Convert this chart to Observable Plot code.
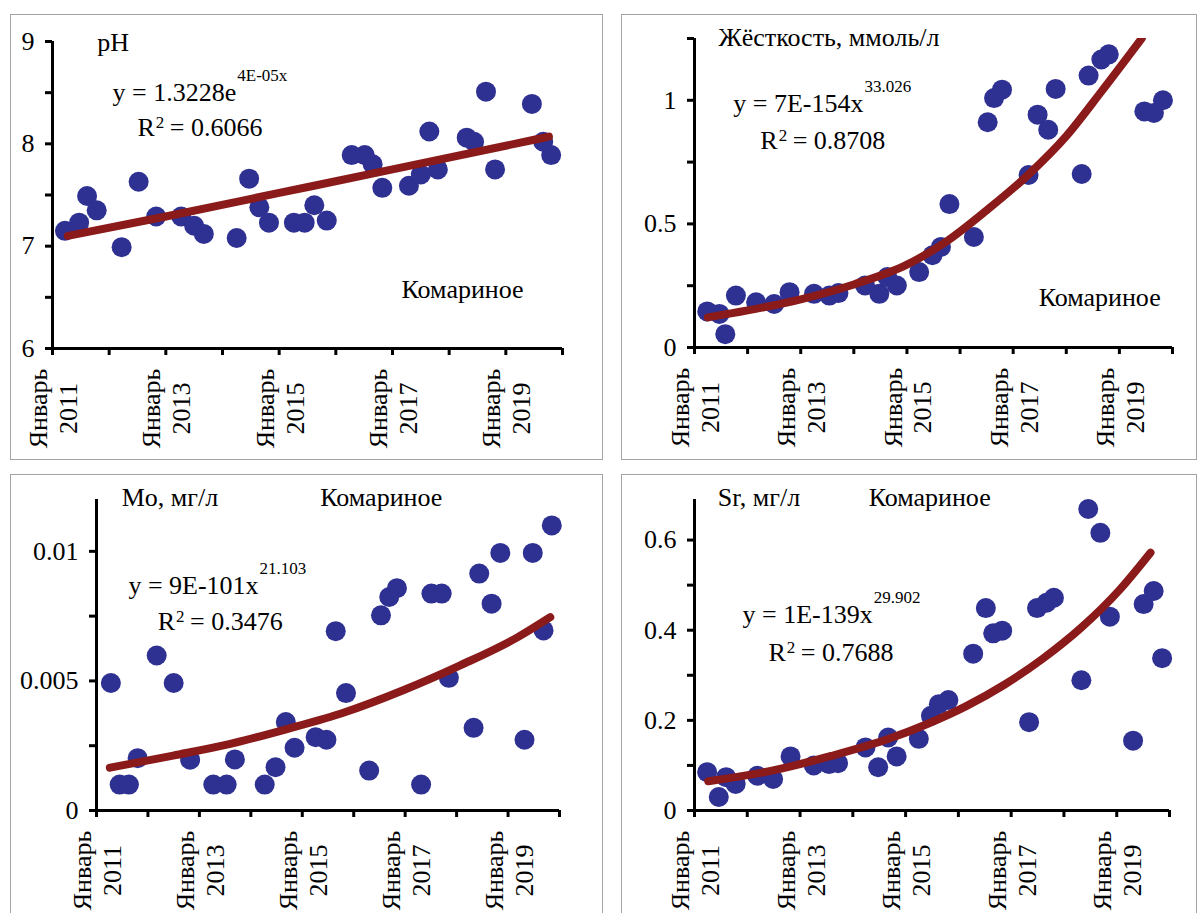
<!DOCTYPE html>
<html>
<head>
<meta charset="utf-8">
<script src="https://cdn.jsdelivr.net/npm/d3@7"></script>
<script src="https://cdn.jsdelivr.net/npm/@observablehq/plot@0.6"></script>
<style>
  html, body { margin: 0; padding: 0; background: #fff; }
  body { width: 1203px; height: 913px; overflow: hidden; position: relative;
         font-family: "Liberation Serif", "Times New Roman", serif; }
  .panel { position: absolute; }
  .panel svg { position: absolute; left: 0; top: 0; }
  .frame { position: absolute; left: 0; top: 0; right: 0; bottom: 0;
           border: 1.5px solid #a3a3a3; box-sizing: border-box; pointer-events: none; }
</style>
</head>
<body>
<script>
// ---------------- data ----------------
const monthLabel = "Январь";
const xTickYears = [2011, 2012, 2013, 2014, 2015, 2016, 2017, 2018, 2019, 2020];
const xLabelYears = [2011, 2013, 2015, 2017, 2019];
const siteName = "Комариное";

// pH
const phX = [2011.22, 2011.47, 2011.61, 2011.78, 2012.22, 2012.52, 2012.83, 2013.27, 2013.50, 2013.67, 2014.25, 2014.47, 2014.65, 2014.82, 2015.26, 2015.45, 2015.62, 2015.84, 2016.28, 2016.51, 2016.65, 2016.82, 2017.29, 2017.50, 2017.65, 2017.80, 2018.31, 2018.44, 2018.65, 2018.81, 2019.46, 2019.66, 2019.80];
const phY = [7.15, 7.23, 7.49, 7.35, 6.99, 7.63, 7.29, 7.29, 7.20, 7.12, 7.08, 7.66, 7.38, 7.23, 7.23, 7.23, 7.40, 7.25, 7.89, 7.89, 7.80, 7.57, 7.59, 7.70, 8.12, 7.75, 8.06, 8.02, 8.51, 7.75, 8.39, 8.02, 7.89];
const phTrendX = [2011.27, 2013.0, 2015.0, 2017.0, 2019.76];
const phTrendY = [7.10, 7.29, 7.52, 7.75, 8.07];
const phYTicks = [6, 6.5, 7, 7.5, 8, 8.5, 9];
const phYLabels = [6, 7, 8, 9];

// Hardness
const hdX = [2011.24, 2011.47, 2011.58, 2011.78, 2012.16, 2012.50, 2012.79, 2013.25, 2013.54, 2013.71, 2014.21, 2014.48, 2014.63, 2014.81, 2015.23, 2015.48, 2015.64, 2015.80, 2016.26, 2016.52, 2016.64, 2016.79, 2017.29, 2017.46, 2017.66, 2017.80, 2018.29, 2018.42, 2018.66, 2018.80, 2019.47, 2019.65, 2019.82];
const hdY = [0.146, 0.136, 0.054, 0.210, 0.183, 0.176, 0.224, 0.217, 0.210, 0.220, 0.251, 0.217, 0.285, 0.251, 0.305, 0.373, 0.407, 0.580, 0.447, 0.911, 1.009, 1.043, 0.698, 0.942, 0.881, 1.046, 0.702, 1.100, 1.165, 1.186, 0.955, 0.949, 1.000];
const hdTrendX = [2011.25, 2012.0, 2013.0, 2014.0, 2015.0, 2015.75, 2016.5, 2017.29, 2018.0, 2018.66, 2019.42];
const hdTrendY = [0.122, 0.150, 0.195, 0.255, 0.335, 0.430, 0.555, 0.700, 0.855, 1.035, 1.25];
const hdYTicks = [0, 0.25, 0.5, 0.75, 1, 1.25];
const hdYLabels = [0, 0.5, 1];

// Mo
const moX = [2011.28, 2011.45, 2011.63, 2011.80, 2012.17, 2012.50, 2012.82, 2013.27, 2013.53, 2013.69, 2014.27, 2014.48, 2014.68, 2014.85, 2015.26, 2015.47, 2015.65, 2015.85, 2016.30, 2016.53, 2016.69, 2016.84, 2017.31, 2017.51, 2017.71, 2017.85, 2018.33, 2018.44, 2018.68, 2018.85, 2019.32, 2019.48, 2019.69, 2019.85];
const moY = [0.00492, 0.00100, 0.00100, 0.00202, 0.00598, 0.00492, 0.00196, 0.00100, 0.00100, 0.00197, 0.00100, 0.00167, 0.00341, 0.00242, 0.00283, 0.00273, 0.00692, 0.00453, 0.00154, 0.00753, 0.00824, 0.00858, 0.00100, 0.00837, 0.00837, 0.00512, 0.00319, 0.00914, 0.00798, 0.00994, 0.00273, 0.00994, 0.00695, 0.0110];
const moTrendX = [2011.26, 2012.49, 2013.60, 2014.72, 2015.84, 2016.95, 2018.07, 2019.19, 2019.82];
const moTrendY = [0.00165, 0.00212, 0.00257, 0.00315, 0.00380, 0.00463, 0.00560, 0.00669, 0.00746];
const moYTicks = [0, 0.0025, 0.005, 0.0075, 0.01];
const moYLabels = [0, 0.005, 0.01];

// Sr
const srX = [2011.24, 2011.46, 2011.60, 2011.78, 2012.19, 2012.49, 2012.82, 2013.26, 2013.55, 2013.72, 2014.24, 2014.48, 2014.67, 2014.83, 2015.25, 2015.48, 2015.63, 2015.81, 2016.28, 2016.52, 2016.66, 2016.83, 2017.34, 2017.49, 2017.67, 2017.81, 2018.33, 2018.46, 2018.69, 2018.87, 2019.31, 2019.51, 2019.70, 2019.86];
const srY = [0.085, 0.030, 0.074, 0.059, 0.077, 0.070, 0.120, 0.100, 0.103, 0.105, 0.140, 0.096, 0.162, 0.120, 0.159, 0.210, 0.236, 0.245, 0.348, 0.449, 0.393, 0.399, 0.196, 0.449, 0.461, 0.472, 0.289, 0.669, 0.616, 0.430, 0.155, 0.458, 0.487, 0.338];
const srTrendX = [2011.26, 2012.49, 2013.59, 2014.68, 2015.41, 2016.14, 2016.87, 2017.60, 2018.33, 2019.05, 2019.64];
const srTrendY = [0.065, 0.089, 0.121, 0.159, 0.192, 0.231, 0.279, 0.337, 0.406, 0.489, 0.572];
const srYTicks = [0, 0.1, 0.2, 0.3, 0.4, 0.5, 0.6];
const srYLabels = [0, 0.2, 0.4, 0.6];

// ---------------- styling ----------------
const dotColor = "#2e3092";
const trendColor = "#8b1a1a";
const FONT = '"Liberation Serif", "Times New Roman", serif';
const FS = 26, SUP = 17;

const ctx = document.createElement("canvas").getContext("2d");
function measure(str, size) {
  ctx.font = `${size}px "Liberation Serif"`;
  return ctx.measureText(str).width;
}

function makePanel(cfg) {
  const pts = cfg.px.map((x, i) => ({x, y: cfg.py[i]}));
  const trend = cfg.tx.map((x, i) => ({x, y: cfg.ty[i]}));
  const n = cfg.notes;
  const rW = measure("R", FS), twoW = measure("2", SUP);
  const eqW = measure(n.eq[0], FS);
  const txt = (data, o) => Plot.text(data, {fontFamily: FONT, fill: "#000", textAnchor: "start", lineAnchor: "bottom", ...o});
  const plot = Plot.plot({
    width: cfg.width, height: cfg.height,
    marginLeft: cfg.m[0], marginRight: cfg.m[1], marginTop: cfg.m[2], marginBottom: cfg.m[3],
    style: {fontFamily: FONT, fontSize: FS + "px", background: "transparent", color: "#000", overflow: "visible"},
    x: {domain: [2011, 2020]},
    y: {domain: cfg.yDomain},
    marks: [
      Plot.axisY(cfg.yTicks, {tickSize: 7, tickPadding: 11, strokeWidth: 3, fontSize: FS, label: null,
        tickFormat: d => cfg.yLabels.includes(d) ? String(d) : ""}),
      Plot.axisX(xTickYears, {tickSize: 7, strokeWidth: 3, label: null, tickFormat: () => ""}),
      Plot.text(xLabelYears, {x: d => d, frameAnchor: "bottom", text: d => `${monthLabel}\n${d}`,
        rotate: -90, textAnchor: "middle", lineAnchor: "middle", lineHeight: 1.15, dy: 60,
        fontSize: FS, fontFamily: FONT}),
      Plot.ruleX([2011], {strokeWidth: 3}),
      Plot.ruleY([cfg.yDomain[0]], {strokeWidth: 3}),
      Plot.dot(pts, {x: "x", y: "y", r: 10, fill: dotColor}),
      Plot.line(trend, {x: "x", y: "y", stroke: trendColor, strokeWidth: 8, curve: "monotone-x", clip: true}),
      txt([n.title], {x: d => d[1], y: d => d[2], text: d => d[0], fontSize: FS}),
      txt([n.site], {x: d => d[1], y: d => d[2], text: d => d[0], fontSize: FS}),
      txt([n.eq], {x: d => d[2], y: d => d[3], text: d => d[0], fontSize: FS}),
      txt([n.eq], {x: d => d[2], y: d => d[3], text: d => d[1], fontSize: SUP, dx: eqW + 1, dy: -20}),
      txt([n.r2], {x: d => d[1], y: d => d[2], text: () => "R", fontSize: FS}),
      txt([n.r2], {x: d => d[1], y: d => d[2], text: () => "2", fontSize: SUP, dx: rW + 1, dy: -8}),
      txt([n.r2], {x: d => d[1], y: d => d[2], text: d => " = " + d[0], fontSize: FS, dx: rW + twoW})
    ]
  });
  const div = document.createElement("div");
  div.className = "panel";
  Object.assign(div.style, {left: cfg.left + "px", top: cfg.top + "px", width: cfg.width + "px", height: cfg.height + "px"});
  div.appendChild(plot);
  const fr = document.createElement("div");
  fr.className = "frame";
  div.appendChild(fr);
  document.body.appendChild(div);
}

makePanel({
  left: 10, top: 14, width: 593, height: 446, m: [42, 41, 27, 112],
  yDomain: [6, 9], yTicks: phYTicks, yLabels: phYLabels,
  px: phX, py: phY, tx: phTrendX, ty: phTrendY,
  notes: {title: ["pH", 2011.79, 8.91], site: [siteName, 2017.16, 6.49],
          eq: ["y = 1.3228e", "4E-05x", 2012.06, 8.42], r2: ["0.6066", 2012.50, 8.08]}
});
makePanel({
  left: 621, top: 14, width: 576, height: 446, m: [73, 25, 24, 113],
  yDomain: [0, 1.25], yTicks: hdYTicks, yLabels: hdYLabels,
  px: hdX, py: hdY, tx: hdTrendX, ty: hdTrendY,
  notes: {title: ["Жёсткость, ммоль/л", 2011.45, 1.218], site: [siteName, 2017.48, 0.166],
          eq: ["y = 7E-154x", "33.026", 2011.73, 0.951], r2: ["0.8708", 2012.24, 0.805]}
});
makePanel({
  left: 10, top: 474, width: 593, height: 446, m: [86, 44, 25, 110],
  yDomain: [0, 0.012], yTicks: moYTicks, yLabels: moYLabels,
  px: moX, py: moY, tx: moTrendX, ty: moTrendY,
  notes: {title: ["Mo, мг/л", 2011.49, 0.01173], site: [siteName, 2015.35, 0.01173],
          eq: ["y = 9E-101x", "21.103", 2011.62, 0.00837], r2: ["0.3476", 2012.19, 0.00695]}
});
makePanel({
  left: 621, top: 474, width: 576, height: 446, m: [73, 28, 25, 110],
  yDomain: [0, 0.69], yTicks: srYTicks, yLabels: srYLabels,
  px: srX, py: srY, tx: srTrendX, ty: srTrendY,
  notes: {title: ["Sr, мг/л", 2011.44, 0.6745], site: [siteName, 2014.30, 0.6745],
          eq: ["y = 1E-139x", "29.902", 2011.91, 0.417], r2: ["0.7688", 2012.40, 0.3306]}
});
</script>
</body>
</html>
